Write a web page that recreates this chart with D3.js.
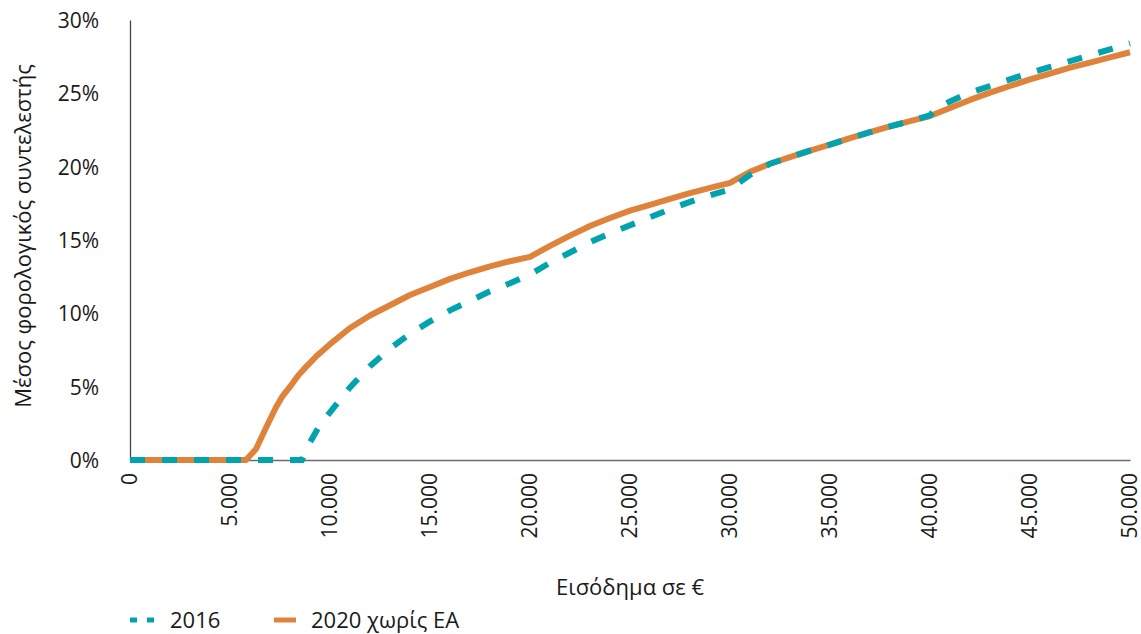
<!DOCTYPE html>
<html>
<head>
<meta charset="utf-8">
<script src="https://cdn.jsdelivr.net/npm/d3@7"></script>
<style>
  html, body { margin: 0; padding: 0; background: #fff; }
  svg { display: block; }
  text { font-family: "Open Sans", "Noto Sans", sans-serif; fill: #1a1a1a; }
</style>
</head>
<body>
<svg id="chart" width="1141" height="634"></svg>
<script>
// ---- Data (income in €, average tax rate in %) ----
const income2016 = [0, 8600, 9000, 9500, 10000, 10500, 11000, 12000, 13000, 14000, 15000, 16000, 17000, 18000, 19000, 20000,
  21000, 22000, 23000, 24000, 25000, 26000, 27000, 28000, 29000, 30000, 31000, 32000, 33000, 34000, 35000, 36000, 37000,
  38000, 39000, 40000, 40300, 41000, 42000, 43000, 44000, 45000, 46000, 47000, 48000, 49000, 50000];
const rate2016 = [0, 0, 1.2, 2.4, 3.25, 4.1, 4.95, 6.4, 7.6, 8.6, 9.45, 10.2, 10.85, 11.5, 12.05, 12.65,
  13.45, 14.15, 14.85, 15.45, 16.0, 16.55, 17.1, 17.6, 18.05, 18.45, 19.45, 20.2, 20.65, 21.1, 21.5, 21.95, 22.35,
  22.75, 23.1, 23.5, 23.95, 24.45, 25.05, 25.5, 25.95, 26.4, 26.8, 27.2, 27.6, 28.0, 28.4];

const income2020 = [0, 5800, 6300, 6800, 7300, 7600, 8000, 8400, 8800, 9300, 9800, 10000, 11000, 12000, 13000, 14000, 15000,
  16000, 17000, 18000, 19000, 20000, 21000, 22000, 23000, 24000, 25000, 26000, 27000, 28000, 29000, 30000, 31000, 32000,
  33000, 34000, 35000, 36000, 37000, 38000, 39000, 40000, 41000, 42000, 43000, 44000, 45000, 46000, 47000, 48000, 49000, 50000];
const rate2020 = [0, 0, 0.75, 2.2, 3.6, 4.3, 5.0, 5.75, 6.35, 7.05, 7.65, 7.9, 9.0, 9.85, 10.55, 11.25, 11.8,
  12.35, 12.8, 13.2, 13.55, 13.85, 14.6, 15.3, 15.95, 16.5, 17.0, 17.4, 17.8, 18.2, 18.55, 18.9, 19.65, 20.2,
  20.65, 21.1, 21.5, 21.95, 22.35, 22.75, 23.1, 23.45, 24.0, 24.55, 25.05, 25.5, 25.95, 26.35, 26.75, 27.1, 27.45, 27.8];

const seriesNames = ["2016", "2020 χωρίς ΕΑ"];
const xTicks = [0, 5000, 10000, 15000, 20000, 25000, 30000, 35000, 40000, 45000, 50000];
const yTicks = [0, 5, 10, 15, 20, 25, 30];
const xTitle = "Εισόδημα σε €";
const yTitle = "Μέσος φορολογικός συντελεστής";

// ---- Layout ----
const svg = d3.select("#chart");
const mLeft = 130, mRight = 1130, mTop = 20, mBottom = 460;
const teal = "#00A3AE", orange = "#DF833B";
const fs = 21;

const x = d3.scaleLinear().domain([0, 50000]).range([mLeft, mRight]);
const y = d3.scaleLinear().domain([0, 30]).range([mBottom, mTop]);

const fmtX = d => d === 0 ? "0" : d3.format(",")(d).replace(/,/g, ".");

// Axes
const xAxis = svg.append("g").attr("transform", `translate(0,${mBottom})`)
  .call(d3.axisBottom(x).tickValues(xTicks).tickSize(0).tickFormat(fmtX));
xAxis.select(".domain").attr("stroke", "#6b6b6b").attr("stroke-width", 1.3);
xAxis.selectAll("text")
  .attr("font-size", fs).attr("fill", "#1a1a1a")
  .attr("text-anchor", "end")
  .attr("transform", "rotate(-90)")
  .attr("x", -13).attr("y", -1).attr("dy", "0.35em");

const yAxis = svg.append("g").attr("transform", `translate(${mLeft},0)`)
  .call(d3.axisLeft(y).tickValues(yTicks).tickSize(0).tickFormat(d => d + "%"));
yAxis.select(".domain").attr("stroke", "#444").attr("stroke-width", 1.3);
yAxis.selectAll("text").attr("font-size", fs).attr("fill", "#1a1a1a").attr("x", -31).attr("dy", "0.35em");

// Lines
const line = d3.line().x(d => x(d[0])).y(d => y(d[1]));
const data2020 = income2020.map((v, i) => [v, rate2020[i]]);
const data2016 = income2016.map((v, i) => [v, rate2016[i]]);

svg.append("path").datum(data2020).attr("d", line)
  .attr("fill", "none").attr("stroke", orange).attr("stroke-width", 6).attr("stroke-linejoin", "round");
svg.append("path").datum(data2016).attr("d", line)
  .attr("fill", "none").attr("stroke", teal).attr("stroke-width", 6).attr("stroke-dasharray", "15,17");

// Titles
svg.append("text").attr("x", (mLeft + mRight) / 2).attr("y", 595).attr("text-anchor", "middle")
  .attr("font-size", 22).text(xTitle);
svg.append("text").attr("transform", `translate(31,${(mTop + mBottom) / 2 - 4}) rotate(-90)`)
  .attr("text-anchor", "middle").attr("font-size", 22).text(yTitle);

// Legend
const lg = svg.append("g");
lg.append("line").attr("x1", 130).attr("x2", 156).attr("y1", 620).attr("y2", 620)
  .attr("stroke", teal).attr("stroke-width", 5).attr("stroke-dasharray", "7,10");
lg.append("text").attr("x", 170).attr("y", 620).attr("dy", "0.35em").attr("font-size", 22).text(seriesNames[0]);
lg.append("line").attr("x1", 274).attr("x2", 296).attr("y1", 620).attr("y2", 620)
  .attr("stroke", orange).attr("stroke-width", 5);
lg.append("text").attr("x", 311).attr("y", 620).attr("dy", "0.35em").attr("font-size", 22).text(seriesNames[1]);
</script>
</body>
</html>
